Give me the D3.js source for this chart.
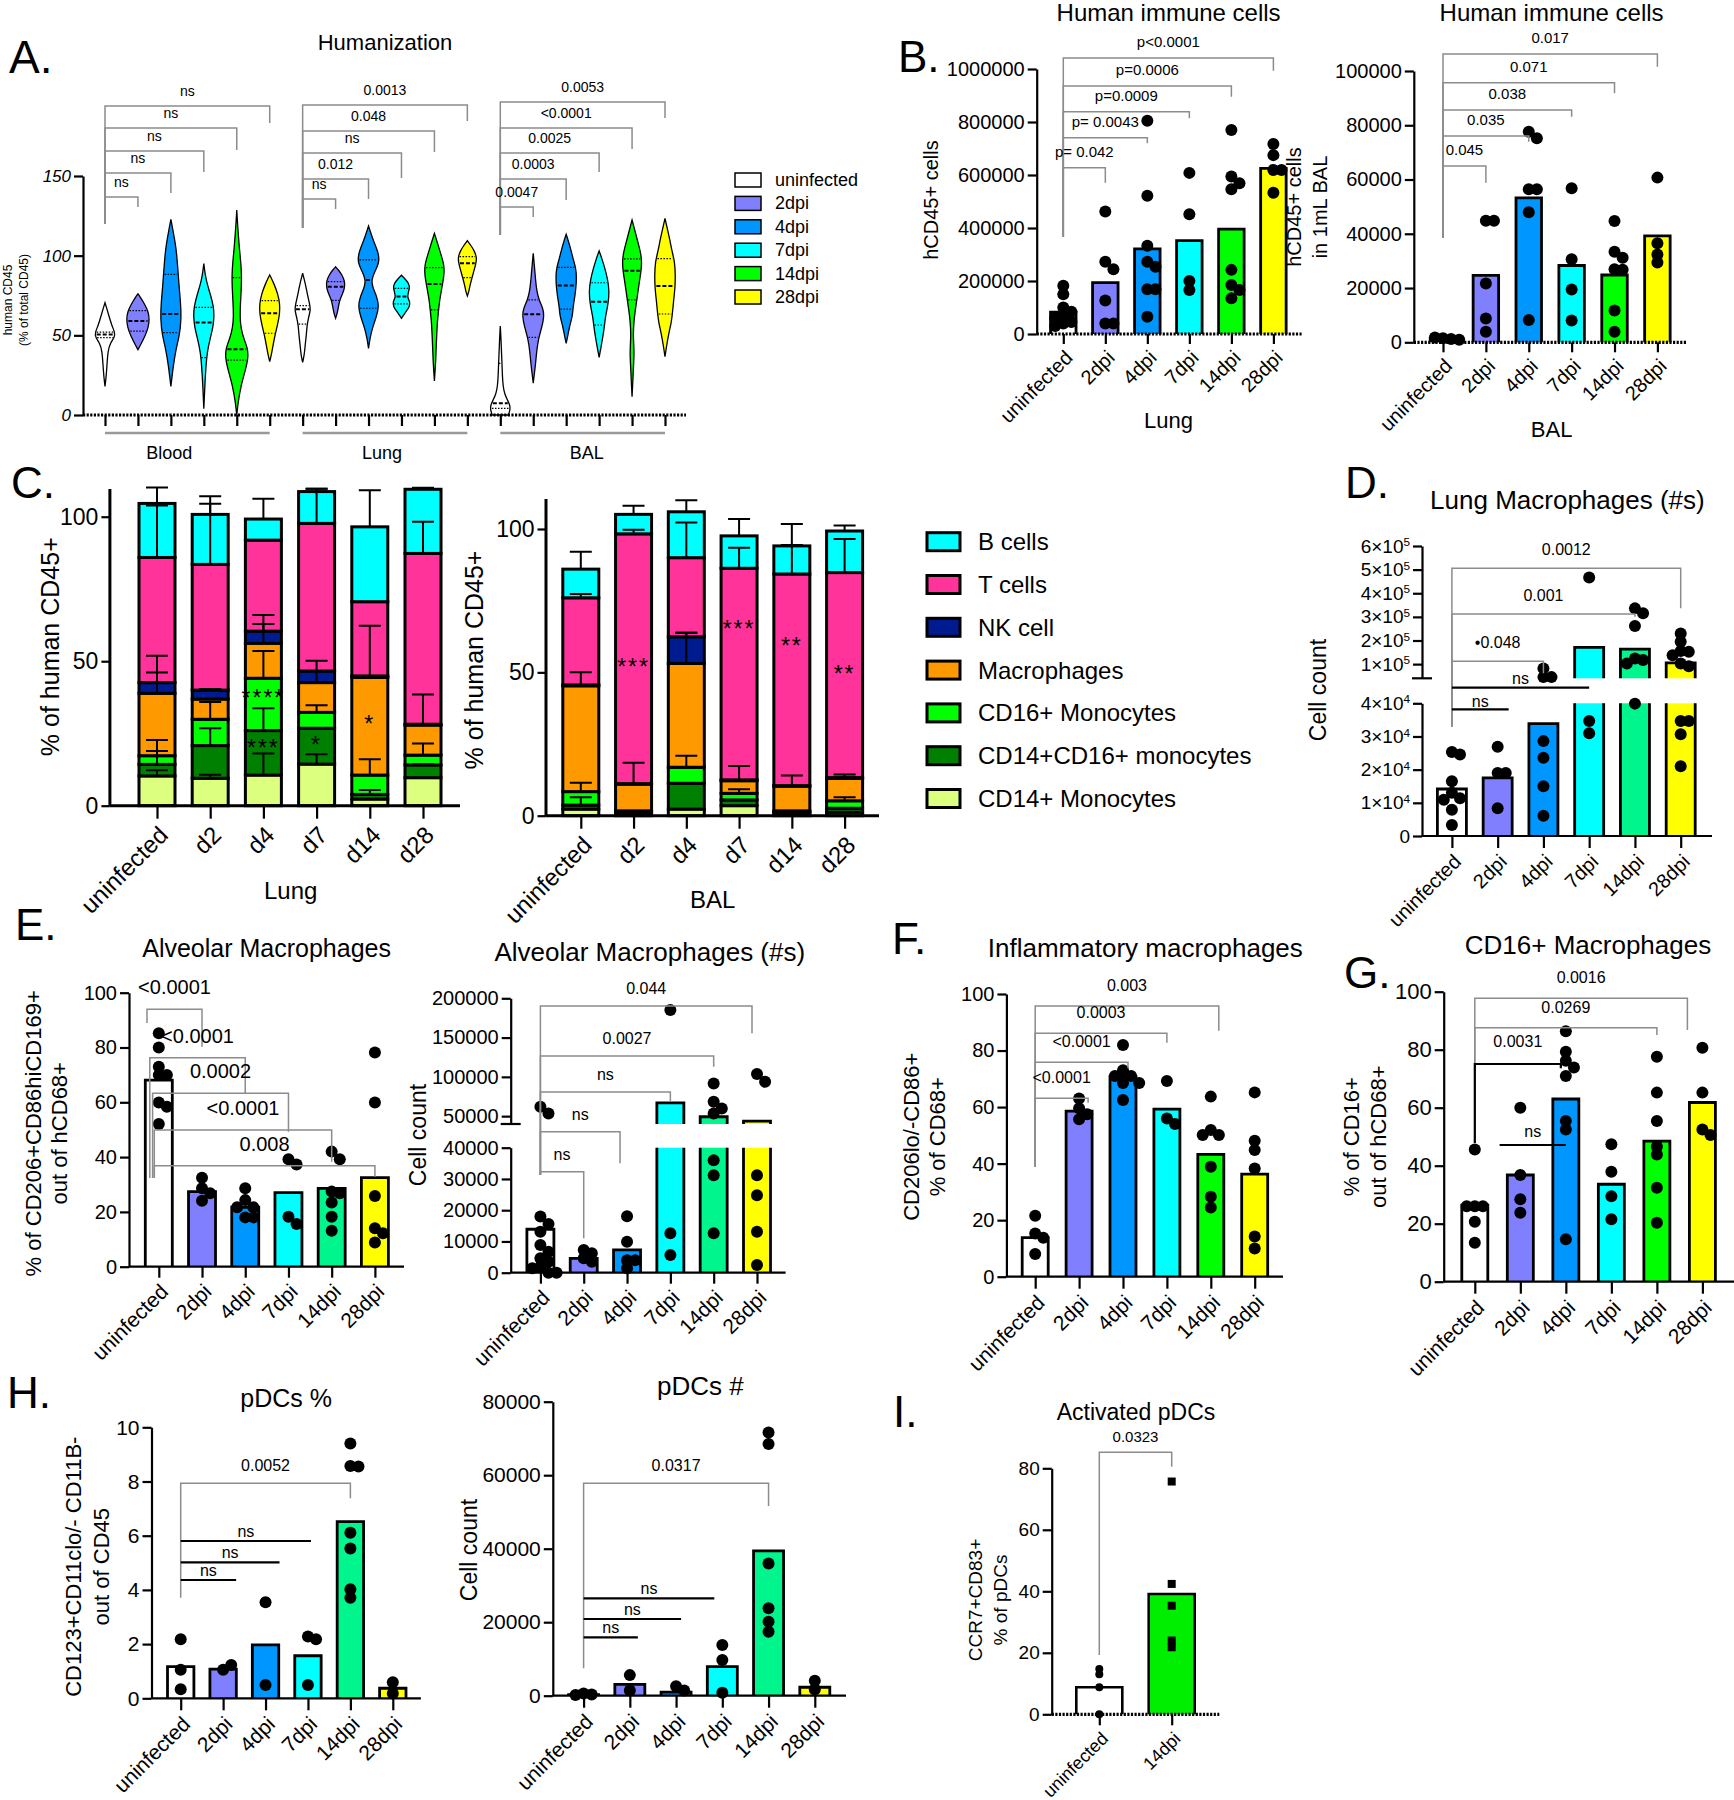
<!DOCTYPE html>
<html>
<head>
<meta charset="utf-8">
<script src="https://cdn.jsdelivr.net/npm/d3@7/dist/d3.min.js"></script>
<style>
  body { margin: 0; background: #fff; }
  text { font-family: "Liberation Sans", Arial, sans-serif; }
</style>
</head>
<body>
<div id="fig"></div>
<script>
// ---------- values ----------
const groups = ["uninfected", "2dpi", "4dpi", "7dpi", "14dpi", "28dpi"]
const dayLabels = ["uninfected", "d2", "d4", "d7", "d14", "d28"]
const tissues = ["Blood", "Lung", "BAL"]
const groupColors = ["#ffffff", "#8080ff", "#0096ff", "#00ffff", "#00ff00", "#ffff00"]
const groupColors2 = ["#ffffff", "#8080ff", "#0096ff", "#00ffff", "#00f58c", "#ffff00"]

// A. violin outlines: [% human CD45, relative half width]
const violinBlood = [
  [[18,0],[24,.1],[32,.18],[40,.25],[45,.45],[49,.85],[52,.85],[56,.6],[62,.35],[67,.15],[70.5,0]],
  [[41,0],[45,.3],[50,.65],[55,.9],[60,1],[65,.9],[70,.55],[74,.2],[76,0]],
  [[18,0],[24,.1],[30,.2],[40,.4],[50,.75],[60,.9],[70,.85],[80,.72],[90,.62],[100,.52],[108,.38],[115,.2],[122.8,0]],
  [[4,0],[12,.05],[20,.1],[30,.18],[40,.3],[48,.55],[55,.8],[62,.9],[68,.85],[75,.6],[82,.3],[88,.12],[95,0]],
  [[0,0],[8,.12],[18,.35],[28,.75],[36,1],[42,.95],[48,.6],[55,.35],[62,.28],[70,.32],[80,.4],[88,.42],[96,.35],[105,.22],[115,.12],[122,.05],[128.7,0]],
  [[33.5,0],[38,.15],[44,.3],[50,.45],[57,.7],[64,.88],[70,.88],[76,.7],[82,.4],[87.9,0]]
]
const violinLung = [
  [[33,0],[38,.15],[44,.22],[50,.32],[56,.38],[61,.5],[66,.7],[70,.6],[76,.4],[82,.25],[89,0]],
  [[60.7,0],[64,.15],[68,.25],[72,.35],[76,.6],[80,.8],[84,.8],[88,.55],[91,.25],[93,0]],
  [[41.8,0],[48,.12],[55,.35],[62,.7],[68,.9],[74,.75],[80,.35],[85,.25],[90,.55],[96,.95],[102,.85],[108,.5],[113,.25],[118.6,0]],
  [[60.7,0],[64,.3],[68,.72],[71,.75],[74,.5],[77,.6],[81,.75],[84,.5],[87.7,0]],
  [[21.3,0],[28,.06],[35,.12],[42,.15],[50,.2],[58,.25],[65,.35],[72,.45],[80,.65],[88,.85],[94,.85],[100,.6],[106,.35],[114,0]],
  [[74.7,0],[78,.15],[82,.25],[86,.4],[90,.55],[95,.75],[99,.82],[103,.6],[106,.35],[109.4,0]]
]
const violinBAL = [
  [[0,.7],[3,.85],[6,.85],[9,.65],[13,.38],[18,.24],[25,.18],[32,.15],[40,.1],[48,.06],[55.9,0]],
  [[20,0],[26,.1],[32,.2],[40,.3],[48,.45],[55,.75],[62,.95],[67,.85],[72,.5],[78,.3],[85,.2],[92,.12],[101.5,0]],
  [[45,0],[50,.15],[56,.3],[62,.55],[68,.6],[74,.75],[80,.85],[86,.9],[92,.85],[98,.6],[104,.4],[109,.2],[113.4,0]],
  [[36.2,0],[42,.15],[48,.3],[55,.45],[62,.55],[70,.8],[78,.88],[85,.75],[92,.5],[98,.25],[103,0]],
  [[11.5,0],[20,.06],[30,.12],[38,.18],[44,.15],[50,.1],[58,.15],[66,.28],[74,.45],[82,.6],[90,.78],[96,.85],[102,.75],[110,.45],[117,.2],[122.4,0]],
  [[36.6,0],[44,.15],[52,.35],[58,.55],[64,.65],[72,.75],[80,.88],[88,.9],[96,.85],[103,.6],[110,.42],[117,.2],[123.4,0]]
]
// [q1, median, q3]
const quartBlood = [[48.5,50.5,52],[52.7,59,65.5],[51.7,63.4,88.3],[36,58,67.6],[34.5,41.2,86.2],[51.3,63.8,71.8]]
const quartLung = [[57,66.3,68.6],[72,80.5,83.7],[67,84.7,97.3],[69.7,74.3,79.5],[66,82.2,92.5],[86.2,95.2,99.4]]
const quartBAL = [[4.2,7.3,32.4],[48.7,63.2,72.2],[66.5,81.2,92.7],[56.5,71,83],[72.2,90.6,98],[63.4,81,98.1]]

// B. hCD45+ counts
const lungCounts = [
  [182000,150000,100000,84000,70000,60000,45000,40000,30000],
  [462000,273000,244000,126000,40000,40000],
  [805000,522000,333000,273000,254000,169000,169000,65000],
  [608000,452000,200000,166000],
  [770000,594000,569000,546000,242000,185000,166000,135000],
  [717000,675000,619000,619000,533000]
]
const lungBars = [82000,194000,321000,352000,396000,625000]
const balCounts = [
  [1500,1200,1800,900],
  [44800,44800,21700,8800,3900],
  [77600,75200,56400,56400,47900,8200],
  [56800,30600,19500,8000],
  [44700,33400,31200,26900,26700,11700,3900],
  [60700,36500,32400,29400]
]
const balBars = [1400,24700,53200,28300,24800,39200]

// C. composition (segment %, bottom to top) and SD
const cellTypes = ["CD14+ Monocytes", "CD14+CD16+ monocytes", "CD16+ Monocytes", "Macrophages", "NK cell", "T cells", "B cells"]
const cellColors = ["#dcff80", "#008000", "#00ff00", "#ff9900", "#001a8f", "#ff3399", "#00ffff"]
const lungStack = [
  [10.3,4.0,3.0,21.6,3.7,43.3,18.7],
  [9.5,11.3,9.1,7.0,3.1,43.5,17.3],
  [10.6,15.4,18.1,12.1,4.2,31.5,7.3],
  [14.4,12.4,5.5,10.3,4.0,51.1,11.0],
  [2.3,1.6,6.7,33.8,0.5,25.7,25.9],
  [9.7,4.4,3.4,10.4,0.3,59.1,22.2]
]
const lungStackSD = [
  [2,4.6,5.4,13,3.5,18,5.5],
  [1.2,6,6,0,0.4,21,6.3],
  [7.5,7.7,9.4,9.8,2.5,0,7],
  [3.4,0,2.5,7.6,0,12,1],
  [0,1.5,5.5,17.9,0,0,12.7],
  [0,0.3,4,10.6,0,11,0.5]
]
const balStack = [
  [2.3,1.4,4.7,36.9,0.3,30.4,10],
  [0.6,0.8,0.3,9.3,0.2,87.1,6.8],
  [2.3,9.0,5.6,36.2,9.3,27.6,16],
  [3.5,2.0,2.3,4.4,0.3,73.8,11.3],
  [0.8,0.6,0.3,8.6,0.2,73.8,9.8],
  [1.2,1.4,2.6,7.8,0.3,71.5,14.5]
]
const balStackSD = [
  [0,2.7,3.1,4.7,0,1.3,6.1],
  [0,0,0,7.5,0,1.4,3],
  [0,0,4,10.7,1.4,12.3,4],
  [0,0,1.4,5.1,0,7.2,5.9],
  [0,0,0,3.7,0,10.1,7.6],
  [0,0,1.2,1.4,0,11.7,1.9]
]
const lungStars = [[2,"****",38.9],[2,"***",21.8],[3,"*",22.7],[4,"*",29.9]]
const balStars = [[1,"***",53.7],[3,"***",66.7],[4,"**",61],[5,"**",51]]

// D. lung macrophage counts
const lungMac = [
  [25300,24600,16500,13000,11400,10900,7900,3300],
  [26900,19000,19000,8400],
  [82000,45000,45000,28600,23600,15000,6100],
  [467000,34700,31000],
  [336000,315000,261000,124000,117000,103000,39900],
  [230000,195000,156000,152000,138000,103000,91500,34700,34700,30700,21000]
]
const lungMacBars = [14170,17500,33900,170600,163600,105000]

// E. alveolar macrophages
const alvPct = [
  [85.2,80,73,70,70,59.9,58.4,52.1],
  [32.5,28.6,26.8,24.1],
  [28.6,24.3,21.7,21.7,18,18],
  [39.2,37.3,18.2,15.6],
  [42,39.2,27.4,26.8,23.4,18.2,13.1],
  [78.2,59.9,25.8,14,12.2,8.8]
]
const alvPctBars = [68.1,27.4,21.7,27,28.6,32.5]
const alvNum = [
  [61900,53400,18000,15600,13100,8900,6700,4600,3500,1900,1400,0,0],
  [7300,6200,4600,3500],
  [18100,9900,4000,4000,1400],
  [185000,12600,5700],
  [91600,68300,59800,53400,36000,31200,12600],
  [103500,93800,31200,24800,13100,2500]
]
const alvNumBars = [13900,4600,7300,67000,49200,43600]

// F. inflammatory macrophages, G. CD16+ macrophages
const inflPct = [
  [21.6,15.3,13.8,8],
  [63,59.6,57.5,55.7],
  [82,73,71,71,68.5,68.5,62.5],
  [69.2,56,54],
  [63.7,51.9,50.1,50.1,38.9,28.3,24.5],
  [65.2,48.1,44.8,38.3,14.2,10]
]
const inflBars = [13.8,58.6,70.8,59.3,43.3,36.3]
const cd16Pct = [
  [45.6,26,26,26,20.7,13.4],
  [60,36.8,28.4,23.8],
  [86.4,79.3,76.2,73.9,70.9,55.4,52.5,14.6],
  [47.4,37.9,29.5,21.5],
  [77.6,65.2,55.4,46.6,43.9,32.4,20.3],
  [80.7,65.2,52.5,50.6]
]
const cd16Bars = [26.4,36.8,63,33.6,48.5,61.8]

// H. pDCs, I. activated pDCs
const pdcPct = [[2.18,1.05,0.33],[1.05,1.23],[3.54,0.49],[2.28,2.18,0.49],[9.4,8.57,8.55,6.11,5.53,4.02,3.71],[0.59,0.18]]
const pdcPctBars = [1.17,1.08,1.97,1.57,6.52,0.37]
const pdcNum = [[600,300,200],[5600,1400],[2600,1400],[13800,9700,800],[71600,68500,36000,23800,20100,17400],[4100,1700]]
const pdcNumBars = [300,3100,1000,7900,39400,2300]
const actGroups = ["uninfected", "14dpi"]
const actPct = [[14.7,13,8.8,0],[75.7,42.4,35.3,24,21.8]]
const actBars = [8.8,39.1]

// ---------- drawing ----------
const svg = d3.select("#fig").append("svg").attr("width", 1734).attr("height", 1800)

function label(x, y, s, size, opts) {
  opts = opts || {}
  const t = svg.append("text").attr("x", x).attr("y", y).attr("font-size", size)
    .attr("text-anchor", opts.anchor || "middle").text(s)
  if (opts.rot) t.attr("transform", `rotate(${opts.rot},${x},${y})`)
  if (opts.italic) t.attr("font-style", "italic")
  return t
}

function yTitle(xs, cy, lines, size) {
  lines.forEach((s, i) => label(xs[i], cy, s, size, { rot: -90 }).attr("dy", "0.35em"))
}

function drawBrackets(g, x, list, o) {
  list.forEach(b => {
    const xa = x(b.a) + (b.dl || 0), xb = x(b.b) + (b.dr || 0)
    let d = `M${xa},${b.l || o.leg}V${b.y}H${xb}`
    if (b.r) d += `V${b.r}`
    g.append("path").attr("d", d).attr("fill", "none")
      .attr("stroke", b.k ? "#000" : "#8c8c8c").attr("stroke-width", b.k ? 2.2 : 1.5)
    g.append("text").attr("x", (xa + xb) / 2).attr("y", b.y - (b.g || o.gap || 10))
      .attr("font-size", o.bfs || 15).attr("text-anchor", "middle").text(b.t)
  })
}

function styleAxis(a, fs) {
  a.attr("font-family", null).attr("font-size", null)
  a.select(".domain").attr("stroke-width", 2.2)
  a.selectAll(".tick line").attr("stroke-width", 2.2)
  a.selectAll(".tick text").attr("font-size", fs)
}

function barChart(o) {
  const g = svg.append("g")
  const segs = o.segs.map(s => Object.assign({ sc: d3.scaleLinear().domain(s.dom).range(s.rng) }, s))
  const y = v => {
    for (const s of segs) if (v <= s.dom[1]) return s.sc(v)
    return segs[segs.length - 1].sc(v)
  }
  const x = d3.scalePoint().domain(d3.range(o.labels.length)).range(o.cx)
  const base = segs[0].rng[0], xt = o.xt || 12, bw = o.barW, fs = o.fs || 20

  // bars, split at the axis break when there is one
  o.bars.forEach((v, i) => {
    const cx = x(i), xl = cx - bw / 2, xr = cx + bw / 2
    segs.forEach((s, k) => {
      if (k > 0 && v <= s.dom[0]) return
      const ends = v <= s.dom[1]
      const top = s.sc(Math.min(v, s.dom[1])), bot = s.rng[0]
      g.append("rect").attr("x", xl).attr("y", top).attr("width", bw)
        .attr("height", Math.max(0, bot - top)).attr("fill", o.colors[i])
      const d = `M${xl},${bot}V${top}` + (ends ? `H${xr}` : `M${xr},${top}`) + `V${bot}`
      g.append("path").attr("d", d).attr("fill", "none").attr("stroke", "#000").attr("stroke-width", o.bsw || 2.8)
    })
  })

  // y axis pieces
  segs.forEach((s, k) => {
    const a = g.append("g").attr("transform", `translate(${o.ax},0)`)
      .call(d3.axisLeft(s.sc).tickValues(s.ticks).tickSize(9).tickSizeOuter(0).tickFormat(s.fmt || d3.format("d")))
    styleAxis(a, fs)
    if (s.sci) a.selectAll(".tick text").each(function (v) {
      const t = d3.select(this).text(null)
      if (v === 0) { t.text("0"); return }
      const e = Math.floor(Math.log10(v) + 1e-9), m = Math.round(v / 10 ** e)
      t.append("tspan").text(`${m}\u00d710`)
      t.append("tspan").attr("dy", "-0.55em").attr("font-size", fs * 0.62).text(e)
    })
    if (k > 0) g.append("line").attr("x1", o.ax - 10).attr("x2", o.ax + 10)
      .attr("y1", s.rng[0]).attr("y2", s.rng[0]).attr("stroke", "#000").attr("stroke-width", 2.2)
  })

  // x axis
  g.append("line").attr("x1", o.ax).attr("x2", o.xEnd).attr("y1", base).attr("y2", base)
    .attr("stroke", "#000").attr("stroke-width", o.dotted ? 3.2 : 2.2)
    .attr("stroke-dasharray", o.dotted ? "2.2,1.4" : null)
  const xa = g.append("g").attr("transform", `translate(0,${base})`)
    .call(d3.axisBottom(x).tickSize(xt).tickSizeOuter(0).tickFormat(i => o.labels[i]))
  styleAxis(xa, o.lfs || 20)
  xa.select(".domain").remove()
  xa.selectAll(".tick text").attr("text-anchor", "end").attr("y", 0).attr("dy", "0.35em")
    .attr("transform", `translate(5,${xt + 10}) rotate(-45)`)

  // points, spread sideways when they collide
  const r = o.r || 6
  o.points.forEach((vals, i) => {
    const placed = [], cx = x(i)
    vals.forEach(v => {
      const py = y(v)
      let off = 0
      for (let k = 0; k < 15; k++) {
        const c = (k % 2 ? 1 : -1) * Math.ceil(k / 2) * r * 1.35
        if (placed.every(p => Math.hypot(p[0] - c, p[1] - py) >= r * 1.3)) { off = c; break }
      }
      placed.push([off, py])
      if (o.square && o.square[i])
        g.append("rect").attr("x", cx + off - r).attr("y", py - r).attr("width", 2 * r).attr("height", 2 * r).attr("fill", "#000")
      else g.append("circle").attr("cx", cx + off).attr("cy", py).attr("r", r).attr("fill", "#000")
    })
  })

  drawBrackets(g, x, o.brackets || [], o)
  return { x, y }
}

function stackChart(o) {
  const g = svg.append("g")
  const y = d3.scaleLinear().domain([0, o.top]).range([o.base, o.yTop])
  const x = d3.scalePoint().domain(d3.range(dayLabels.length)).range(o.cx)
  const layers = d3.stack().keys(d3.range(cellTypes.length))(o.data)

  layers.forEach((L, k) => L.forEach((d, i) => {
    g.append("rect").attr("x", x(i) - 18).attr("y", y(d[1])).attr("width", 36)
      .attr("height", y(d[0]) - y(d[1])).attr("fill", cellColors[k])
      .attr("stroke", "#000").attr("stroke-width", 3)
  }))
  layers.forEach((L, k) => L.forEach((d, i) => {
    const e = o.sd[i][k]
    if (!e) return
    const cx = x(i), y0 = y(d[1]), y1 = y(d[1] + e)
    g.append("path").attr("d", `M${cx},${y0}V${y1}M${cx - 11},${y1}H${cx + 11}`)
      .attr("stroke", "#000").attr("stroke-width", 2).attr("fill", "none")
  }))
  o.stars.forEach(s => {
    g.append("text").attr("x", x(s[0])).attr("y", y(s[2]) + 13).attr("font-size", 23)
      .attr("text-anchor", "middle").attr("letter-spacing", 2).text(s[1])
  })

  const a = g.append("g").attr("transform", `translate(${o.ax},0)`)
    .call(d3.axisLeft(y).tickValues([0, 50, 100]).tickSize(8).tickSizeOuter(0))
  styleAxis(a, 23)
  a.select(".domain").attr("stroke-width", 3)
  g.append("line").attr("x1", o.ax).attr("x2", o.xEnd).attr("y1", o.base).attr("y2", o.base)
    .attr("stroke", "#000").attr("stroke-width", 3)
  const xa = g.append("g").attr("transform", `translate(0,${o.base})`)
    .call(d3.axisBottom(x).tickSize(13).tickSizeOuter(0).tickFormat(i => dayLabels[i]))
  styleAxis(xa, 24)
  xa.select(".domain").remove()
  xa.selectAll(".tick text").attr("text-anchor", "end").attr("y", 0).attr("dy", "0.35em")
    .attr("transform", "translate(6,25) rotate(-45)")
}

function violinPanel() {
  const g = svg.append("g")
  const y = d3.scaleLinear().domain([0, 150]).range([415, 176])
  const x = d3.scalePoint().domain(d3.range(18)).range([105, 665])
  const w = d3.scaleLinear().domain([0, 1]).range([0, 11.5])
  const profiles = violinBlood.concat(violinLung, violinBAL)
  const quarts = quartBlood.concat(quartLung, quartBAL)

  profiles.forEach((prof, i) => {
    const cx = x(i)
    const area = d3.area().curve(d3.curveBasis).y(d => y(d[0]))
      .x0(d => cx - w(d[1])).x1(d => cx + w(d[1]))
    g.append("path").attr("d", area(prof)).attr("fill", groupColors[i % 6])
      .attr("stroke", "#000").attr("stroke-width", 1.3)
    const halfAt = d3.scaleLinear().domain(prof.map(d => d[0])).range(prof.map(d => d[1]))
    quarts[i].forEach((v, k) => {
      const hw = w(halfAt(v)) * 0.85
      g.append("line").attr("x1", cx - hw).attr("x2", cx + hw).attr("y1", y(v)).attr("y2", y(v))
        .attr("stroke", "#000").attr("stroke-width", k === 1 ? 2 : 1.2)
        .attr("stroke-dasharray", k === 1 ? "4,2" : "1.5,1.5")
    })
  })

  const a = g.append("g").attr("transform", "translate(83,0)")
    .call(d3.axisLeft(y).tickValues([0, 50, 100, 150]).tickSize(9).tickSizeOuter(0))
  styleAxis(a, 17)
  a.selectAll(".tick text").attr("font-style", "italic")
  g.append("line").attr("x1", 83).attr("x2", 686).attr("y1", 415).attr("y2", 415)
    .attr("stroke", "#000").attr("stroke-width", 3.2).attr("stroke-dasharray", "2.2,1.4")
  const xa = g.append("g").attr("transform", "translate(0,415)")
    .call(d3.axisBottom(x).tickSize(11).tickSizeOuter(0).tickFormat(""))
  styleAxis(xa, 10)
  xa.select(".domain").remove()

  const tissueDx = [-18, -3, 4]
  tissues.forEach((t, k) => {
    const x0 = x(k * 6), x1 = x(k * 6 + 5)
    g.append("line").attr("x1", x0).attr("x2", x1).attr("y1", 433).attr("y2", 433)
      .attr("stroke", "#999").attr("stroke-width", 2.5)
    label((x0 + x1) / 2 + tissueDx[k], 459, t, 18)
  })

  const br = [
    { a: 0, b: 5, y: 106, r: 123, t: "ns", l: 224 }, { a: 0, b: 4, y: 128, r: 150, t: "ns", l: 224 },
    { a: 0, b: 3, y: 151, r: 172, t: "ns", l: 224 }, { a: 0, b: 2, y: 173, r: 193, t: "ns", l: 224 },
    { a: 0, b: 1, y: 197, r: 207, t: "ns", l: 224 },
    { a: 6, b: 11, y: 105, r: 121, t: "0.0013", l: 228 }, { a: 6, b: 10, y: 131, r: 152, t: "0.048", l: 228 },
    { a: 6, b: 9, y: 153, r: 178, t: "ns", l: 228 }, { a: 6, b: 8, y: 179, r: 199, t: "0.012", l: 228 },
    { a: 6, b: 7, y: 199, r: 209, t: "ns", l: 228 },
    { a: 12, b: 17, y: 102, r: 118, t: "0.0053", l: 235 }, { a: 12, b: 16, y: 128, r: 149, t: "<0.0001", l: 235 },
    { a: 12, b: 15, y: 153, r: 172, t: "0.0025", l: 235 }, { a: 12, b: 14, y: 179, r: 200, t: "0.0003", l: 235 },
    { a: 12, b: 13, y: 207, r: 217, t: "0.0047", l: 235 }
  ]
  drawBrackets(g, x, br, { gap: 10, bfs: 14 })

  // legend
  groups.forEach((s, i) => {
    const cy = 180 + i * 23.4
    g.append("rect").attr("x", 735).attr("y", cy - 7).attr("width", 26).attr("height", 14)
      .attr("fill", groupColors[i]).attr("stroke", "#000").attr("stroke-width", 1.5)
    label(775, cy + 6, s, 18, { anchor: "start" })
  })
  label(385, 50, "Humanization", 22)
  yTitle([8, 24], 300, ["human CD45", "(% of total CD45)"], 12)
}

// ---- A ----
label(9, 73, "A.", 46, { anchor: "start" })
violinPanel()

// ---- B ----
label(898, 72, "B.", 44, { anchor: "start" })
barChart({
  segs: [{ dom: [0, 1000000], rng: [334, 69], ticks: d3.range(0, 1000001, 200000) }],
  ax: 1036.7, xEnd: 1301.6, cx: [1063.3, 1273.4], labels: groups, xt: 10, fs: 20, lfs: 20,
  bars: lungBars, points: lungCounts, colors: groupColors, barW: 25.5, dotted: true,
  leg: 236.7, gap: 11, bfs: 15,
  brackets: [
    { a: 0, b: 5, y: 58, r: 70.7, t: "p<0.0001" }, { a: 0, b: 4, y: 86, r: 96.7, t: "p=0.0006" },
    { a: 0, b: 3, y: 111.7, r: 118.3, t: "p=0.0009" }, { a: 0, b: 2, y: 137.7, r: 143.3, t: "p= 0.0043" },
    { a: 0, b: 1, y: 167.7, r: 182.7, t: "p= 0.042" }
  ]
})
label(1168.6, 21, "Human immune cells", 24)
label(1168.6, 428, "Lung", 22)
yTitle([931], 200, ["hCD45+ cells"], 20)

barChart({
  segs: [{ dom: [0, 100000], rng: [342.3, 71], ticks: d3.range(0, 100001, 20000) }],
  ax: 1413.8, xEnd: 1686, cx: [1443, 1657.4], labels: groups, xt: 10, fs: 20, lfs: 20,
  bars: balBars, points: balCounts, colors: groupColors, barW: 25.5, dotted: true,
  leg: 238, gap: 11, bfs: 15,
  brackets: [
    { a: 0, b: 5, y: 54, r: 66.7, t: "0.017" }, { a: 0, b: 4, y: 82.7, r: 93.3, t: "0.071" },
    { a: 0, b: 3, y: 110, r: 116.7, t: "0.038" }, { a: 0, b: 2, y: 136, r: 141.7, t: "0.035" },
    { a: 0, b: 1, y: 166, r: 182.7, t: "0.045" }
  ]
})
label(1551.6, 21, "Human immune cells", 24)
label(1551.6, 437, "BAL", 22)
yTitle([1293.6, 1320], 207, ["hCD45+ cells", "in 1mL BAL"], 20)

// ---- C ----
label(11, 498, "C.", 44, { anchor: "start" })
stackChart({ data: lungStack, sd: lungStackSD, stars: lungStars, top: 109.8, base: 805.7, yTop: 488.4,
  ax: 109.4, xEnd: 460, cx: [157, 423] })
label(290.7, 899, "Lung", 24)
yTitle([50.5], 646.7, ["% of human CD45+"], 25)
stackChart({ data: balStack, sd: balStackSD, stars: balStars, top: 110.6, base: 815.7, yTop: 498.6,
  ax: 545.5, xEnd: 879, cx: [580.8, 844.6] })
label(712.7, 908, "BAL", 24)
yTitle([474], 660, ["% of human CD45+"], 25)

cellTypes.slice().reverse().forEach((s, i) => {
  const cy = 541.7 + i * 42.8
  svg.append("rect").attr("x", 927).attr("y", cy - 9).attr("width", 33).attr("height", 18)
    .attr("fill", cellColors[cellTypes.length - 1 - i]).attr("stroke", "#000").attr("stroke-width", 3)
  label(978, cy + 8.5, s, 24, { anchor: "start" })
})

// ---- D ----
label(1345, 498, "D.", 44, { anchor: "start" })
barChart({
  segs: [
    { dom: [0, 40000], rng: [836, 703.3], ticks: d3.range(0, 40001, 10000), sci: true },
    { dom: [40000, 600000], rng: [678.3, 546], ticks: d3.range(100000, 600001, 100000), sci: true }
  ],
  ax: 1422, xEnd: 1712, cx: [1451.9, 1680.7], labels: groups, fs: 19, lfs: 20,
  bars: lungMacBars, points: lungMac, colors: groupColors2, barW: 29,
  leg: 726.7, bfs: 16, gap: 13,
  brackets: [
    { a: 0, b: 5, y: 568.3, r: 608.3, t: "0.0012" }, { a: 0, b: 4, y: 614, r: 616.7, t: "0.001" },
    { a: 0, b: 2, y: 661.3, r: 673.3, t: "\u20220.048" },
    { a: 0, b: 3, y: 687.7, l: 687.7, t: "ns", k: 1, g: 4 },
    { a: 0, b: 1, y: 709.3, l: 709.3, t: "ns", k: 1, dr: 11, g: 2 }
  ]
})
label(1567.4, 509, "Lung Macrophages (#s)", 26)
yTitle([1318.4], 690, ["Cell count"], 23)

// ---- E ----
label(15, 940, "E.", 44, { anchor: "start" })
barChart({
  segs: [{ dom: [0, 100], rng: [1266.7, 992.7], ticks: d3.range(0, 101, 20) }],
  ax: 129, xEnd: 404, cx: [158.8, 374.9], labels: groups, fs: 20, lfs: 21, xt: 11,
  bars: alvPctBars, points: alvPct, colors: groupColors2, barW: 27,
  leg: 1178, bfs: 20, gap: 15,
  brackets: [
    { a: 0, b: 1, y: 1009.3, r: 1046.7, l: 1023, dl: -11.8, t: "<0.0001" },
    { a: 0, b: 2, y: 1057.7, r: 1093.3, dl: -9, t: "<0.0001" },
    { a: 0, b: 3, y: 1093.3, r: 1131.7, dl: -6.2, t: "0.0002" },
    { a: 0, b: 4, y: 1130, r: 1161.7, dl: -4.5, t: "<0.0001" },
    { a: 0, b: 5, y: 1165.7, r: 1176.7, dl: -4.5, t: "0.008" }
  ]
})
label(266.6, 957, "Alveolar Macrophages", 25)
yTitle([33.7, 59], 1133.3, ["% of CD206+CD86hiCD169+", "out of hCD68+"], 22)

barChart({
  segs: [
    { dom: [0, 40000], rng: [1272.7, 1147.7], ticks: d3.range(0, 40001, 10000) },
    { dom: [40000, 200000], rng: [1124, 998.3], ticks: d3.range(50000, 200001, 50000) }
  ],
  ax: 510.7, xEnd: 785.6, cx: [540.4, 757], labels: groups, fs: 20, lfs: 21, xt: 11,
  bars: alvNumBars, points: alvNum, colors: groupColors2, barW: 27,
  leg: 1175, bfs: 16, gap: 12,
  brackets: [
    { a: 0, b: 5, y: 1006, r: 1033.3, t: "0.044", dr: -5 }, { a: 0, b: 4, y: 1056, r: 1066.7, t: "0.0027" },
    { a: 0, b: 3, y: 1092, r: 1101.7, t: "ns" }, { a: 0, b: 2, y: 1131.7, r: 1163.3, t: "ns", dr: -7 },
    { a: 0, b: 1, y: 1171.7, r: 1238.3, t: "ns" }
  ]
})
label(649.8, 961, "Alveolar Macrophages (#s)", 26)
yTitle([418], 1135, ["Cell count"], 23)

// ---- F ----
label(892, 954, "F.", 44, { anchor: "start" })
barChart({
  segs: [{ dom: [0, 100], rng: [1276.7, 994], ticks: d3.range(0, 101, 20) }],
  ax: 1006.4, xEnd: 1283, cx: [1035.2, 1254.7], labels: groups, fs: 20, lfs: 21,
  bars: inflBars, points: inflPct, colors: groupColors, barW: 26,
  leg: 1166.7, bfs: 16, gap: 15,
  brackets: [
    { a: 0, b: 4, y: 1006, r: 1030.7, t: "0.003", dr: 8 }, { a: 0, b: 3, y: 1033.3, r: 1042.7, t: "0.0003" },
    { a: 0, b: 2, y: 1062.3, r: 1068.3, t: "<0.0001", dr: 5 }, { a: 0, b: 1, y: 1098.3, r: 1102.7, t: "<0.0001", dr: 9 }
  ]
})
label(1145.3, 957, "Inflammatory macrophages", 26)
yTitle([911.6, 937.2], 1136.7, ["CD206lo/-CD86+", "% of CD68+"], 22)

// ---- G ----
label(1344, 988, "G.", 44, { anchor: "start" })
barChart({
  segs: [{ dom: [0, 100], rng: [1281.7, 991.7], ticks: d3.range(0, 101, 20) }],
  ax: 1443.7, xEnd: 1734, cx: [1474.8, 1702.4], labels: groups, fs: 22, lfs: 21,
  bars: cd16Bars, points: cd16Pct, colors: groupColors, barW: 26,
  leg: 1143, bfs: 16, gap: 15,
  brackets: [
    { a: 0, b: 5, y: 998.3, r: 1030, t: "0.0016", dr: -15 }, { a: 0, b: 4, y: 1027.7, r: 1035, t: "0.0269" },
    { a: 0, b: 2, y: 1064, r: 1068.3, t: "0.0031", k: 1, dr: -5, g: 17 },
    { a: 1, b: 2, dl: -20.7, y: 1145, l: 1145, t: "ns", k: 1, g: 8 }
  ]
})
label(1588, 954, "CD16+ Macrophages", 26)
yTitle([1351, 1378.4], 1136.7, ["% of CD16+", "out of hCD68+"], 22)

// ---- H ----
label(7, 1408, "H.", 44, { anchor: "start" })
barChart({
  segs: [{ dom: [0, 10], rng: [1698.3, 1427.3], ticks: d3.range(0, 11, 2) }],
  ax: 151.5, xEnd: 420.9, cx: [180.7, 392.8], labels: groups, fs: 21, lfs: 21,
  bars: pdcPctBars, points: pdcPct, colors: groupColors2, barW: 26.4,
  leg: 1597.7, bfs: 16, gap: 12,
  brackets: [
    { a: 0, b: 4, y: 1483.3, r: 1498.3, t: "0.0052" },
    { a: 0, b: 3, y: 1541, l: 1541, t: "ns", k: 1, dr: 3, g: 4 },
    { a: 0, b: 2, y: 1562.3, l: 1562.3, t: "ns", k: 1, dr: 14, g: 4 },
    { a: 0, b: 1, y: 1580, l: 1580, t: "ns", k: 1, dr: 13, g: 4 }
  ]
})
label(286.2, 1407, "pDCs %", 25)
yTitle([73, 101], 1566.7, ["CD123+CD11clo/- CD11B-", "out of CD45"], 22)

barChart({
  segs: [{ dom: [0, 80000], rng: [1695.7, 1401.7], ticks: d3.range(0, 80001, 20000) }],
  ax: 552.8, xEnd: 846, cx: [583.6, 814.8], labels: groups, fs: 21, lfs: 21,
  bars: pdcNumBars, points: pdcNum, colors: groupColors2, barW: 30,
  leg: 1668.3, bfs: 16, gap: 12,
  brackets: [
    { a: 0, b: 4, y: 1483.3, r: 1506, t: "0.0317" },
    { a: 0, b: 3, y: 1598.3, l: 1598.3, t: "ns", k: 1, dr: -8, g: 4 },
    { a: 0, b: 2, y: 1619, l: 1619, t: "ns", k: 1, dr: 5, g: 4 },
    { a: 0, b: 1, y: 1637.3, l: 1637.3, t: "ns", k: 1, dr: 8, g: 4 }
  ]
})
label(700.3, 1395, "pDCs #", 26)
yTitle([468.6], 1550, ["Cell count"], 23)

// ---- I ----
label(893, 1427, "I.", 44, { anchor: "start" })
barChart({
  segs: [{ dom: [0, 80], rng: [1714.3, 1468.3], ticks: d3.range(0, 81, 20) }],
  ax: 1051.7, xEnd: 1219.3, cx: [1099.3, 1171.7], labels: actGroups, fs: 19, lfs: 18, xt: 11,
  bars: actBars, points: actPct, colors: ["#ffffff", "#00ee00"], barW: 46, dotted: true,
  r: 4, square: [false, true], bsw: 2.6,
  leg: 1655, bfs: 15, gap: 10,
  brackets: [{ a: 0, b: 1, y: 1452.3, r: 1466.7, t: "0.0323" }]
})
label(1136, 1420, "Activated pDCs", 23)
yTitle([975, 1000.7], 1600, ["CCR7+CD83+", "% of pDCs"], 19)
</script>
</body>
</html>
